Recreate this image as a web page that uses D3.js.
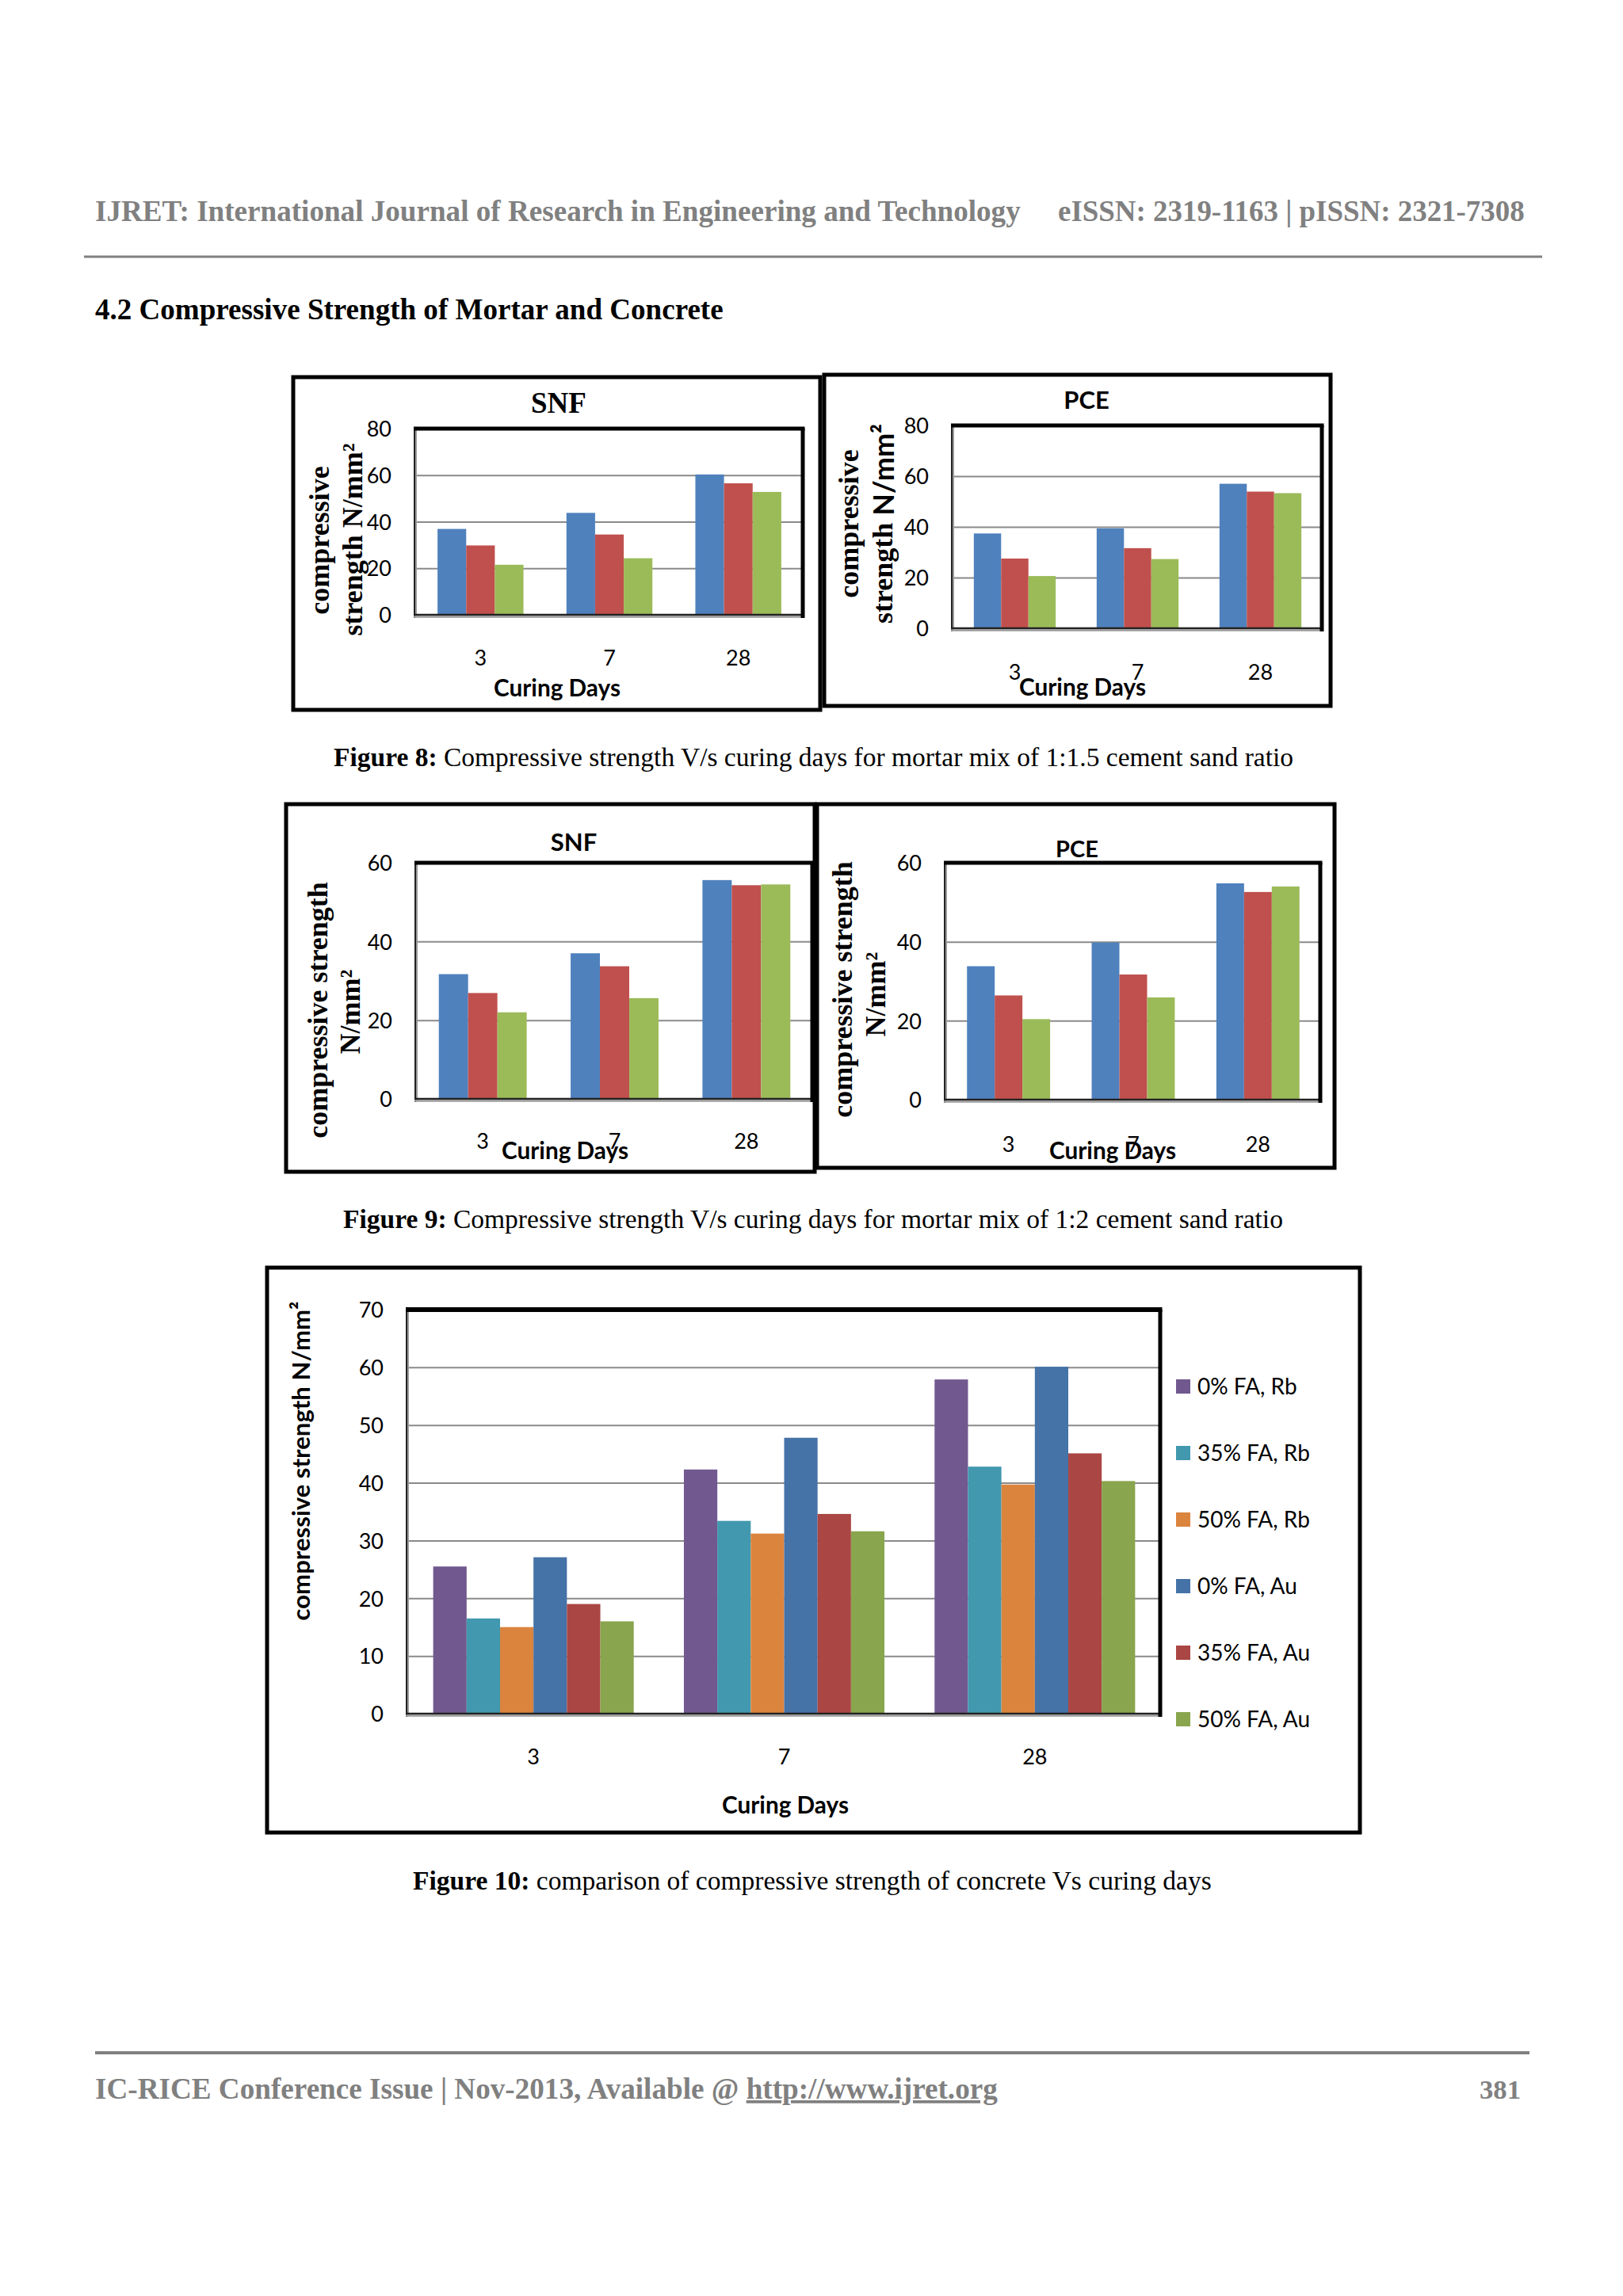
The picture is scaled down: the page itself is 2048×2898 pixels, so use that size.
<!DOCTYPE html>
<html>
<head>
<meta charset="utf-8">
<script src="https://cdn.jsdelivr.net/npm/d3@7"></script>
<style>
  html, body { margin: 0; padding: 0; background: #ffffff; }
  svg { display: block; }
</style>
</head>
<body>
<div id="page"></div>
<script>
// ---------------- DATA ----------------
const days = ["3", "7", "28"];

const fig8Ticks = [0, 20, 40, 60, 80];
const fig9Ticks = [0, 20, 40, 60];
const fig10Ticks = [0, 10, 20, 30, 40, 50, 60, 70];

// Figure 8 (mortar 1:1.5)
const fig8SNF_A = [36.9, 43.8, 60.3];
const fig8SNF_B = [29.8, 34.5, 56.5];
const fig8SNF_C = [21.5, 24.3, 52.8];
const fig8PCE_A = [37.4, 39.4, 57.0];
const fig8PCE_B = [27.5, 31.6, 53.9];
const fig8PCE_C = [20.6, 27.3, 53.3];

// Figure 9 (mortar 1:2)
const fig9SNF_A = [31.7, 37.0, 55.6];
const fig9SNF_B = [26.9, 33.7, 54.3];
const fig9SNF_C = [22.0, 25.6, 54.5];
const fig9PCE_A = [33.8, 39.8, 54.8];
const fig9PCE_B = [26.4, 31.7, 52.6];
const fig9PCE_C = [20.4, 25.9, 54.0];

// Figure 10 (concrete)
const fig10Series = ["0% FA, Rb", "35% FA, Rb", "50% FA, Rb", "0% FA, Au", "35% FA, Au", "50% FA, Au"];
const fig10_0Rb  = [25.5, 42.3, 57.9];
const fig10_35Rb = [16.5, 33.4, 42.8];
const fig10_50Rb = [15.0, 31.2, 39.7];
const fig10_0Au  = [27.1, 47.8, 60.1];
const fig10_35Au = [19.0, 34.6, 45.1];
const fig10_50Au = [16.0, 31.6, 40.3];

// ---------------- STYLE ----------------
const mortarColors = ["#4F81BD", "#C0504D", "#9BBB59"];
const concreteColors = ["#71588F", "#4198AF", "#DB843D", "#4572A7", "#AA4643", "#89A54E"];
const SERIF = "'Liberation Serif', 'Times New Roman', serif";
const SANS = "Lato, 'Open Sans', sans-serif";
const GRID = "#8a8a8a";

const W = 2048, H = 2898;
const svg = d3.select("#page").append("svg").attr("width", W).attr("height", H);
svg.append("rect").attr("width", W).attr("height", H).attr("fill", "#ffffff");

function fit(sel, target) {
  const fs = parseFloat(sel.attr("font-size"));
  const w = sel.node().getComputedTextLength();
  if (w > 0) sel.attr("font-size", (fs * target / w).toFixed(2));
  return sel;
}

// ---------------- PAGE TEXT ----------------
const hdr = svg.append("text").attr("x", 120).attr("y", 279)
  .attr("font-family", SERIF).attr("font-weight", "bold").attr("font-size", 34)
  .attr("fill", "#808080")
  .text("IJRET: International Journal of Research in Engineering and Technology");
fit(hdr, 1168);
const hdr2 = svg.append("text").attr("x", 1335).attr("y", 279)
  .attr("font-family", SERIF).attr("font-weight", "bold").attr("font-size", 34)
  .attr("fill", "#808080")
  .text("eISSN: 2319-1163 | pISSN: 2321-7308");
fit(hdr2, 589);
svg.append("line").attr("x1", 106).attr("x2", 1946).attr("y1", 324).attr("y2", 324)
  .attr("stroke", "#808080").attr("stroke-width", 3);

const sec = svg.append("text").attr("x", 120).attr("y", 403)
  .attr("font-family", SERIF).attr("font-weight", "bold").attr("font-size", 34)
  .attr("fill", "#000")
  .text("4.2 Compressive Strength of Mortar and Concrete");
fit(sec, 793);

function caption(x, y, bold, rest, width) {
  const t = svg.append("text").attr("x", x).attr("y", y)
    .attr("font-family", SERIF).attr("font-size", 30).attr("fill", "#000");
  t.append("tspan").attr("font-weight", "bold").text(bold);
  t.append("tspan").text(rest);
  fit(t, width);
}
caption(421, 967, "Figure 8:", " Compressive strength V/s curing days for mortar mix of 1:1.5 cement sand ratio", 1211);
caption(433, 1550, "Figure 9:", " Compressive strength V/s curing days for mortar mix of 1:2 cement sand ratio", 1186);
caption(521, 2385, "Figure 10:", " comparison of compressive strength of concrete Vs curing days", 1008);

// footer
svg.append("line").attr("x1", 120).attr("x2", 1930).attr("y1", 2591).attr("y2", 2591)
  .attr("stroke", "#808080").attr("stroke-width", 4);
const ft = svg.append("text").attr("x", 120).attr("y", 2649)
  .attr("font-family", SERIF).attr("font-weight", "bold").attr("font-size", 34).attr("fill", "#808080");
ft.append("tspan").text("IC-RICE Conference Issue | Nov-2013, Available @ ");
ft.append("tspan").attr("text-decoration", "underline").text("http://www.ijret.org");
fit(ft, 1139);
const pg = svg.append("text").attr("x", 1919).attr("y", 2649).attr("text-anchor", "end")
  .attr("font-family", SERIF).attr("font-weight", "bold").attr("font-size", 34).attr("fill", "#808080")
  .text("381");
fit(pg, 52);

// ---------------- CHART ----------------
function drawChart(cfg) {
  const g = svg.append("g");
  const [L, T, R, B] = cfg.plot;
  const y = d3.scaleLinear().domain([0, d3.max(cfg.ticks)]).range([B, T]);
  const n = cfg.series.length;
  const p = 1.5 / (n + 1.5);
  const x0 = d3.scaleBand().domain(days).range([L, R]).paddingInner(p).paddingOuter(p / 2);
  const x1 = d3.scaleBand().domain(d3.range(n)).range([0, x0.bandwidth()]);

  // outer box
  const [bx0, by0, bx1, by1] = cfg.box;
  g.append("rect").attr("x", bx0).attr("y", by0).attr("width", bx1 - bx0).attr("height", by1 - by0)
    .attr("fill", "none").attr("stroke", "#000").attr("stroke-width", 5);

  // gridlines
  const grid = g.append("g").attr("transform", `translate(${L},0)`)
    .call(d3.axisLeft(y).tickValues(cfg.ticks.filter(t => t > 0 && t < d3.max(cfg.ticks)))
      .tickSize(-(R - L)).tickFormat(""));
  grid.select(".domain").remove();
  grid.selectAll("line").attr("stroke", GRID).attr("stroke-width", 2);

  // bars
  cfg.series.forEach((vals, i) => {
    g.append("g").selectAll("rect").data(vals).join("rect")
      .attr("x", (d, j) => x0(days[j]) + x1(i))
      .attr("y", d => y(d))
      .attr("width", x1.bandwidth())
      .attr("height", d => y(0) - y(d))
      .attr("fill", cfg.colors[i]);
  });

  // plot border
  g.append("line").attr("x1", L - 2).attr("x2", L - 2).attr("y1", T).attr("y2", B + 4)
    .attr("stroke", "#222").attr("stroke-width", 2);
  g.append("line").attr("x1", L).attr("x2", L).attr("y1", T).attr("y2", B + 2)
    .attr("stroke", "#9a9a9a").attr("stroke-width", 2);
  g.append("line").attr("x1", L - 3).attr("x2", R).attr("y1", B).attr("y2", B)
    .attr("stroke", "#222").attr("stroke-width", 2.5);
  g.append("line").attr("x1", L - 3).attr("x2", R).attr("y1", B + 2.5).attr("y2", B + 2.5)
    .attr("stroke", "#9a9a9a").attr("stroke-width", 2.5);
  g.append("line").attr("x1", L - 3).attr("x2", R + 2.5).attr("y1", T).attr("y2", T)
    .attr("stroke", "#000").attr("stroke-width", cfg.topW || 5);
  g.append("line").attr("x1", R).attr("x2", R).attr("y1", T).attr("y2", B + 4)
    .attr("stroke", "#000").attr("stroke-width", 5);

  // y tick labels
  const ya = g.append("g").attr("transform", `translate(${L - 31},0)`)
    .call(d3.axisLeft(y).tickValues(cfg.ticks).tickSize(0).tickPadding(0));
  ya.select(".domain").remove();
  ya.selectAll("text").attr("font-family", SANS).attr("font-size", cfg.tickFs)
    .attr("fill", "#000").attr("dy", "0.36em");

  // x tick labels
  const xa = g.append("g").attr("transform", `translate(0,${cfg.xLabelY})`)
    .call(d3.axisBottom(x0).tickSize(0).tickPadding(0));
  xa.select(".domain").remove();
  xa.selectAll("text").attr("font-family", SANS).attr("font-size", cfg.tickFs)
    .attr("fill", "#000").attr("y", 0).attr("dy", "0.36em");

  // x title
  const xt = g.append("text").attr("x", cfg.xTitle[0]).attr("y", cfg.xTitle[1])
    .attr("text-anchor", "middle").attr("dy", "0.3em")
    .attr("font-family", SANS).attr("font-weight", "bold").attr("font-size", 29)
    .attr("fill", "#000").text("Curing Days");
  fit(xt, 160);

  // chart title
  if (cfg.title) {
    g.append("text").attr("x", cfg.title.x).attr("y", cfg.title.y)
      .attr("text-anchor", "middle").attr("dy", "0.36em")
      .attr("font-family", cfg.title.serif ? SERIF : SANS).attr("font-weight", "bold")
      .attr("font-size", cfg.title.fs).attr("fill", "#000").text(cfg.title.text);
  }

  // y title
  cfg.yTitle.forEach(line => {
    const t = g.append("text")
      .attr("transform", `translate(${line.x},${line.cy}) rotate(-90)`)
      .attr("text-anchor", "middle").attr("dominant-baseline", "central")
      .attr("font-family", line.sans ? SANS : SERIF).attr("font-weight", "bold")
      .attr("font-size", line.fs || 36).attr("fill", "#000");
    line.parts.forEach(part => {
      const ts = t.append("tspan").text(part.t);
      if (part.sans) ts.attr("font-family", SANS);
    });
    if (line.fitW) fit(t, line.fitW);
  });

  // legend
  if (cfg.legend) {
    cfg.legend.names.forEach((name, i) => {
      const cy = cfg.legend.ys[i];
      g.append("rect").attr("x", cfg.legend.x).attr("y", cy - 9).attr("width", 18).attr("height", 18)
        .attr("fill", cfg.colors[i]);
      g.append("text").attr("x", cfg.legend.x + 27).attr("y", cy).attr("dy", "0.36em")
        .attr("font-family", SANS).attr("font-size", 28).attr("fill", "#000").text(name);
    });
  }
}

// Figure 8 – SNF
drawChart({
  box: [370, 476, 1035, 896],
  plot: [525, 541, 1013, 776],
  ticks: fig8Ticks,
  series: [fig8SNF_A, fig8SNF_B, fig8SNF_C],
  colors: mortarColors,
  tickFs: 27,
  xLabelY: 830,
  xTitle: [703, 870],
  title: { text: "SNF", x: 705, y: 508, fs: 37, serif: true },
  yTitle: [
    { x: 403, cy: 682, parts: [{ t: "compressive" }] },
    { x: 445, cy: 681, parts: [{ t: "strength N/mm²" }] }
  ]
});

// Figure 8 – PCE
drawChart({
  box: [1040, 473, 1679, 891],
  plot: [1203, 537, 1668, 793],
  ticks: fig8Ticks,
  series: [fig8PCE_A, fig8PCE_B, fig8PCE_C],
  colors: mortarColors,
  tickFs: 27,
  xLabelY: 848,
  xTitle: [1366, 869],
  title: { text: "PCE", x: 1371, y: 505, fs: 31 },
  yTitle: [
    { x: 1071, cy: 661, parts: [{ t: "compressive" }] },
    { x: 1114, cy: 661, parts: [{ t: "strength " }, { t: "N/mm²", sans: true }] }
  ]
});

// Figure 9 – SNF
drawChart({
  box: [361, 1015, 1028, 1479],
  plot: [526, 1089, 1025, 1387],
  ticks: fig9Ticks,
  series: [fig9SNF_A, fig9SNF_B, fig9SNF_C],
  colors: mortarColors,
  tickFs: 27,
  xLabelY: 1440,
  xTitle: [713, 1454],
  title: { text: "SNF", x: 724, y: 1063, fs: 31 },
  yTitle: [
    { x: 401, cy: 1275, parts: [{ t: "compressive strength" }] },
    { x: 442, cy: 1277, parts: [{ t: "N/mm²" }] }
  ]
});

// Figure 9 – PCE
drawChart({
  box: [1031, 1015, 1684, 1474],
  plot: [1194, 1089, 1666, 1388],
  ticks: fig9Ticks,
  series: [fig9PCE_A, fig9PCE_B, fig9PCE_C],
  colors: mortarColors,
  tickFs: 27,
  xLabelY: 1444,
  xTitle: [1404, 1454],
  title: { text: "PCE", x: 1359, y: 1072, fs: 29 },
  yTitle: [
    { x: 1063, cy: 1249, parts: [{ t: "compressive strength" }] },
    { x: 1105, cy: 1255, parts: [{ t: "N/mm²" }] }
  ]
});

// Figure 10 – concrete
drawChart({
  box: [337, 1600, 1716, 2313],
  plot: [515, 1653, 1464, 2163],
  ticks: fig10Ticks,
  series: [fig10_0Rb, fig10_35Rb, fig10_50Rb, fig10_0Au, fig10_35Au, fig10_50Au],
  colors: concreteColors,
  tickFs: 27,
  xLabelY: 2217,
  xTitle: [991, 2280],
  topW: 6,
  yTitle: [
    { x: 379, cy: 1844, sans: true, fs: 28, fitW: 403, parts: [{ t: "compressive strength N/mm²" }] }
  ],
  legend: { names: fig10Series, x: 1484, ys: [1750, 1834, 1918, 2002, 2086, 2170] }
});
</script>
</body>
</html>
